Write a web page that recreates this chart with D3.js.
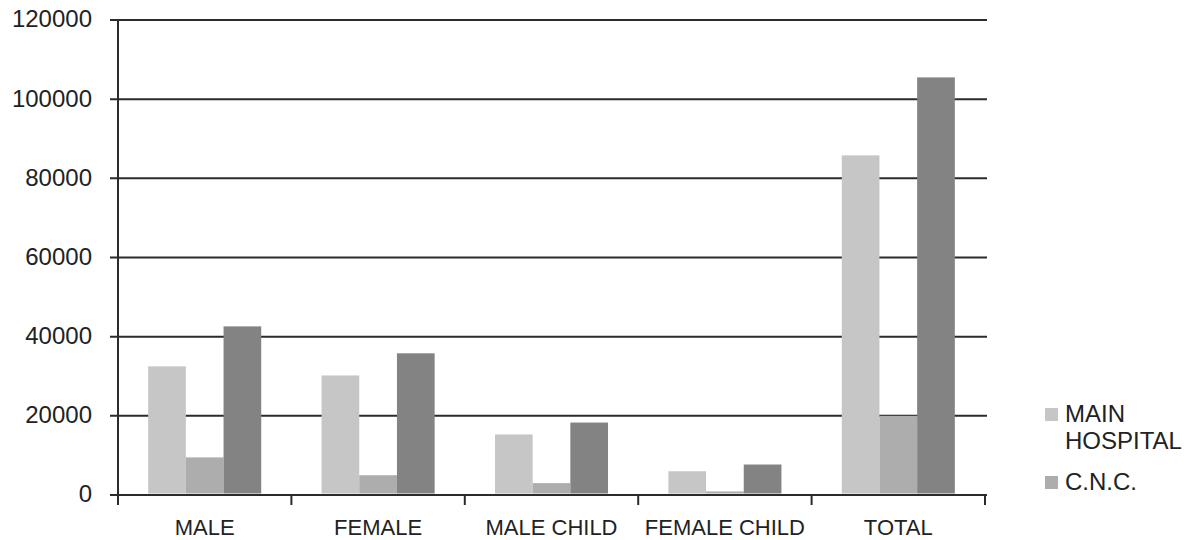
<!DOCTYPE html>
<html>
<head>
<meta charset="utf-8">
<title>Hospital chart</title>
<script src="https://d3js.org/d3.v7.min.js"></script>
<style>
  body { margin: 0; background: #fff; }
  svg { display: block; font-family: "Liberation Sans", Arial, sans-serif; }
  .grid line { stroke: #2b2b2b; stroke-width: 2; }
  .ylab { font-size: 24px; fill: #222; text-anchor: end; dominant-baseline: middle; }
  .xlab { font-size: 22px; fill: #222; text-anchor: middle; }
  .leg { font-size: 24px; fill: #222; }
</style>
</head>
<body>
<svg width="1187" height="540"></svg>
<script>
// categories and series
const categories = ["MALE", "FEMALE", "MALE CHILD", "FEMALE CHILD", "TOTAL"];
const seriesNames = ["MAIN HOSPITAL", "C.N.C.", "TOTAL"];
const mainHospital = [32500, 30200, 15300, 6000, 85800];
const cnc = [9500, 5000, 3000, 900, 20000];
const totals = [42600, 35800, 18300, 7700, 105500];
const yTicks = [0, 20000, 40000, 60000, 80000, 100000, 120000];
const legendShown = ["MAIN HOSPITAL", "C.N.C."];

const colors = ["#c6c6c6", "#adadad", "#838383"];
const values = [mainHospital, cnc, totals];

const svg = d3.select("svg");
const plotL = 118, plotR = 985, plotT = 20, plotB = 495;

const y = d3.scaleLinear().domain([0, 120000]).range([plotB, plotT]);
const x0 = d3.scaleBand().domain(categories).range([plotL, plotR]).padding(0);
const step = x0.bandwidth();
const x1 = d3.scaleBand().domain(seriesNames)
  .range([step * 0.174, step * 0.826]).padding(0);

// gridlines + left ticks
const grid = svg.append("g").attr("class", "grid");
grid.selectAll("line").data(yTicks).enter().append("line")
  .attr("x1", plotL - 8).attr("x2", plotR + 2)
  .attr("y1", d => y(d)).attr("y2", d => y(d));

svg.selectAll("text.ylab").data(yTicks).enter().append("text")
  .attr("class", "ylab")
  .attr("x", 92).attr("y", d => y(d) + 1)
  .text(d => d);

// bars
const groups = svg.selectAll("g.cat").data(categories).enter().append("g")
  .attr("class", "cat")
  .attr("transform", d => `translate(${x0(d)},0)`);

groups.selectAll("rect")
  .data((c, i) => seriesNames.map((s, k) => ({ s, k, v: values[k][i] })))
  .enter().append("rect")
  .attr("x", d => x1(d.s))
  .attr("width", x1.bandwidth())
  .attr("y", d => y(d.v))
  .attr("height", d => y(0) - 1.5 - y(d.v))
  .attr("fill", d => colors[d.k]);

// axes
const axisG = svg.append("g").attr("class", "grid");
axisG.append("line").attr("x1", plotL).attr("x2", plotL).attr("y1", plotT).attr("y2", plotB + 10);
axisG.append("line").attr("x1", plotL - 8).attr("x2", plotR + 2).attr("y1", plotB).attr("y2", plotB);
const tickXs = categories.map(c => x0(c)).concat([plotR]);
axisG.selectAll("line.xt").data(tickXs).enter().append("line")
  .attr("class", "xt")
  .attr("x1", d => d).attr("x2", d => d)
  .attr("y1", plotB).attr("y2", plotB + 10);

svg.selectAll("text.xlab").data(categories).enter().append("text")
  .attr("class", "xlab")
  .attr("x", d => x0(d) + step / 2)
  .attr("y", 535)
  .text(d => d);

// legend
const legend = svg.append("g").attr("transform", "translate(1045,0)");
const legRows = [
  { name: legendShown[0], lines: ["MAIN", "HOSPITAL"], y: 408 },
  { name: legendShown[1], lines: ["C.N.C."], y: 476 }
];
legRows.forEach((r, i) => {
  legend.append("rect").attr("x", 0).attr("y", r.y).attr("width", 13).attr("height", 13)
    .attr("fill", colors[i]);
  r.lines.forEach((t, j) => {
    legend.append("text").attr("class", "leg")
      .attr("x", 20).attr("y", r.y + 14 + j * 27).text(t);
  });
});
</script>
</body>
</html>
